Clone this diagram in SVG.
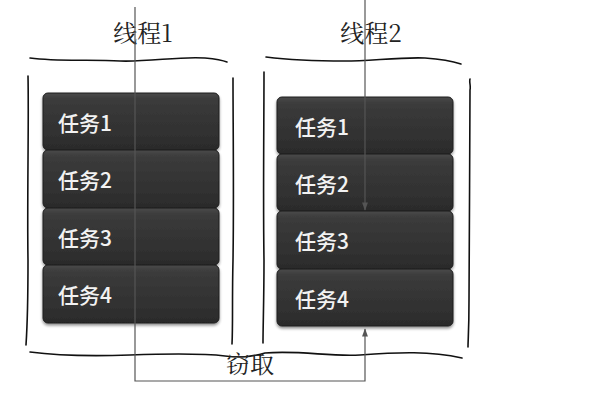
<svg xmlns="http://www.w3.org/2000/svg" width="600" height="414" viewBox="0 0 600 414">
  <defs>
    <linearGradient id="taskFill" x1="0" y1="0" x2="0" y2="1">
      <stop offset="0" stop-color="#4a4a4a"/>
      <stop offset="0.12" stop-color="#3b3b3b"/>
      <stop offset="1" stop-color="#2b2b2b"/>
    </linearGradient>
    <filter id="shadow" x="-10%" y="-10%" width="120%" height="130%">
      <feGaussianBlur in="SourceAlpha" stdDeviation="1.5"/>
      <feOffset dy="1.5"/>
      <feComponentTransfer><feFuncA type="linear" slope="0.45"/></feComponentTransfer>
      <feMerge><feMergeNode/><feMergeNode in="SourceGraphic"/></feMerge>
    </filter>
    <marker id="arrow" viewBox="0 0 10 10" refX="9" refY="5" markerWidth="7" markerHeight="7" orient="auto">
      <path d="M0,1.5 L10,5 L0,8.5 Z" fill="#555"/>
    </marker>
  </defs>
  <style>
    .task rect { fill: url(#taskFill); stroke: #1e1e1e; stroke-width: 1; filter: url(#shadow); }
    .task text { font-family: "Noto Sans CJK SC", "Liberation Sans", sans-serif; font-size: 21px; font-weight: 500; fill: #f2f2f2; }
    .title { font-family: "Noto Serif CJK SC", "Noto Sans CJK SC", "Liberation Serif", serif; font-size: 24px; fill: #222; }
    .hand { fill: none; stroke: #111; stroke-width: 1.6; stroke-linecap: round; }
    .link { fill: none; stroke: #555; stroke-width: 1.2; }
  </style>
  <rect width="600" height="414" fill="#fff"/>

  <!-- thread 1 frame -->
  <g id="thread1">
    <text class="title" x="143" y="42" text-anchor="middle">线程1</text>
    <path class="hand" d="M30,58 C60,62 90,59 120,61 C150,62 180,56 205,58 C215,59 222,60 227,62"/>
    <path class="hand" d="M28,76 C29,120 27,200 28,260 C28,300 27,330 26,345"/>
    <path class="hand" d="M233,78 C233,120 234,200 233,260 C232,300 233,325 232,344"/>
  </g>

  <!-- thread 2 frame -->
  <g id="thread2">
    <text class="title" x="371" y="42" text-anchor="middle">线程2</text>
    <path class="hand" d="M266,57 C290,60 320,61 345,61 C370,61 400,57 425,58 C440,59 452,61 461,64"/>
    <path class="hand" d="M264,72 C264,120 263,200 264,260 C264,300 263,325 263,343"/>
    <path class="hand" d="M470,79 C469,82 471,86 470,90 C470,150 469,250 469,300 C469,330 468,340 468,347"/>
  </g>

  <!-- shared bottom edge -->
  <path class="hand" d="M30,352 C60,356 100,356 130,355 C160,354 200,353 225,356 C240,358 250,357 265,353 C300,350 330,357 360,355 C400,352 430,351 462,358"/>

  <!-- tasks of thread 1 -->
  <g id="t1-task1" class="task"><rect x="43" y="93" width="176" height="57" rx="5"/><text x="58" y="131">任务1</text></g>
  <g id="t1-task2" class="task"><rect x="43" y="150" width="176" height="58" rx="5"/><text x="58" y="188">任务2</text></g>
  <g id="t1-task3" class="task"><rect x="43" y="208" width="176" height="57" rx="5"/><text x="58" y="246">任务3</text></g>
  <g id="t1-task4" class="task"><rect x="43" y="265" width="176" height="58" rx="5"/><text x="58" y="303">任务4</text></g>

  <!-- tasks of thread 2 -->
  <g id="t2-task1" class="task"><rect x="277" y="97" width="176" height="57" rx="5"/><text x="295" y="135">任务1</text></g>
  <g id="t2-task2" class="task"><rect x="277" y="154" width="176" height="57" rx="5"/><text x="295" y="192">任务2</text></g>
  <g id="t2-task3" class="task"><rect x="277" y="211" width="176" height="58" rx="5"/><text x="295" y="249">任务3</text></g>
  <g id="t2-task4" class="task"><rect x="277" y="269" width="176" height="57" rx="5"/><text x="295" y="307">任务4</text></g>

  <!-- connectors -->
  <g id="connectors">
    <path class="link" d="M365,0 L365,210" marker-end="url(#arrow)"/>
    <path class="link" d="M135,7 L135,381 L365,381 L365,329" marker-end="url(#arrow)"/>
  </g>

  <text class="title" x="250" y="373" text-anchor="middle">窃取</text>
</svg>
